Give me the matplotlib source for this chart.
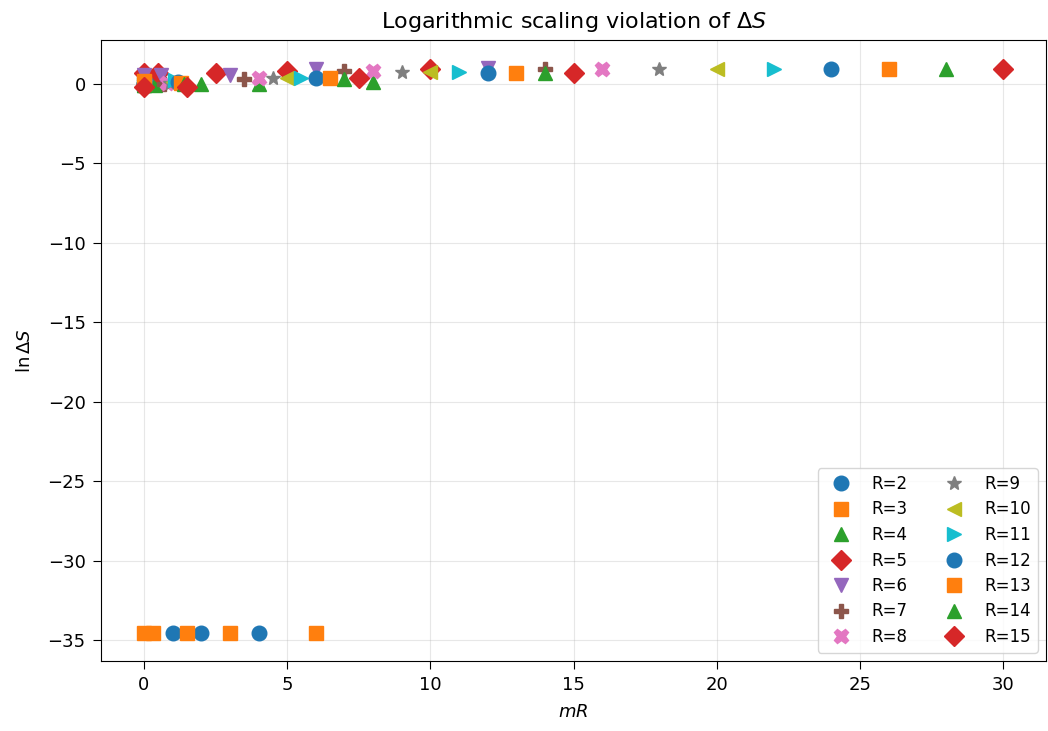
import numpy as np
import matplotlib
matplotlib.use("Agg")
import matplotlib.pyplot as plt

# Lattice sizes and mass parameters
R_values = [2, 3, 4, 5, 6, 7, 8, 9, 10, 11, 12, 13, 14, 15]
m_values = [0.0, 0.1, 0.5, 1.0, 2.0]

# ln(Delta S) for each R, one entry per m in m_values
FLOOR = -34.54  # ln(1e-15)
lnDS_R2 = [0.0, 0.0, FLOOR, FLOOR, FLOOR]
lnDS_R3 = [FLOOR, FLOOR, FLOOR, FLOOR, FLOOR]
lnDS_R4 = [-0.1, -0.1, 0.0, -0.05, 0.1]
lnDS_R5 = [0.65, 0.65, 0.65, 0.8, 0.95]
lnDS_R6 = [0.55, 0.55, 0.55, 0.95, 0.97]
lnDS_R7 = [0.0, 0.0, 0.3, 0.8, 0.95]
lnDS_R8 = [0.0, 0.05, 0.35, 0.78, 0.95]
lnDS_R9 = [0.0, 0.05, 0.35, 0.75, 0.95]
lnDS_R10 = [0.0, 0.1, 0.35, 0.75, 0.95]
lnDS_R11 = [0.0, 0.2, 0.35, 0.75, 0.95]
lnDS_R12 = [0.0, 0.1, 0.35, 0.7, 0.95]
lnDS_R13 = [0.15, 0.05, 0.35, 0.7, 0.95]
lnDS_R14 = [-0.1, -0.05, 0.3, 0.65, 0.95]
lnDS_R15 = [-0.2, -0.2, 0.35, 0.65, 0.95]

series = [lnDS_R2, lnDS_R3, lnDS_R4, lnDS_R5, lnDS_R6, lnDS_R7, lnDS_R8,
          lnDS_R9, lnDS_R10, lnDS_R11, lnDS_R12, lnDS_R13, lnDS_R14, lnDS_R15]

markers = ['o', 's', '^', 'D', 'v', 'P', 'X', '*', '<', '>']

fig = plt.figure(figsize=(10.48, 7.31), dpi=100)
ax = fig.add_axes([101 / 1048, 70 / 731, 945 / 1048, 621 / 731])

for i, (R, y) in enumerate(zip(R_values, series)):
    x = np.array(m_values) * R
    ax.plot(x, y, linestyle='none', marker=markers[i % 10],
            color=f"C{i % 10}", markersize=10.5, label=f"R={R}")

ax.set_title(r"Logarithmic scaling violation of $\Delta S$", fontsize=16, pad=9)
ax.set_xlabel(r"$mR$", fontsize=13, labelpad=6)
ax.set_ylabel(r"$\ln\Delta S$", fontsize=13, labelpad=10)
ax.tick_params(labelsize=13, length=6, pad=5)
ax.grid(True, alpha=0.3)
ax.legend(loc='lower right', ncol=2, fontsize=12, numpoints=1,
          labelspacing=0.45, handletextpad=0.8, columnspacing=1.8)

fig.savefig("out.png", dpi=100)
